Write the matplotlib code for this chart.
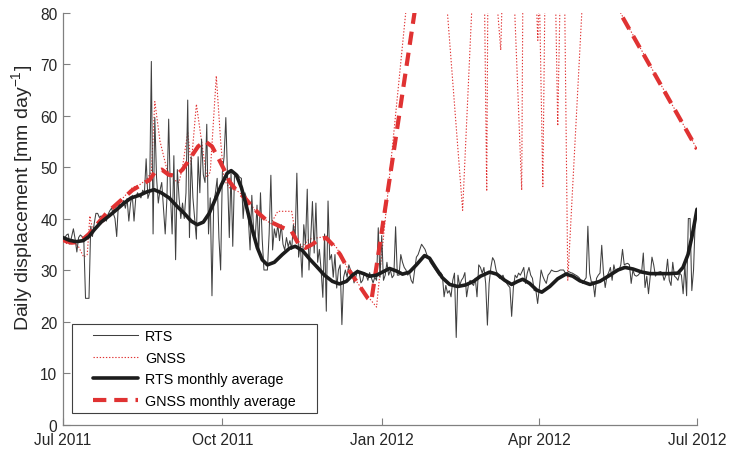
import matplotlib
matplotlib.use("Agg")
import matplotlib.pyplot as plt
from matplotlib.patches import Rectangle
import numpy as np

plt.rcParams['font.family'] = ['Liberation Sans', 'DejaVu Sans']
plt.rcParams['mathtext.fontset'] = 'custom'
plt.rcParams['mathtext.rm'] = 'Liberation Sans'
plt.rcParams['mathtext.it'] = 'Liberation Sans:italic'
plt.rcParams['mathtext.default'] = 'regular'

# Day offsets are counted from 1 July 2011
tick_days = [0, 92, 184, 275, 366]
tick_labels = ["Jul 2011", "Oct 2011", "Jan 2012", "Apr 2012", "Jul 2012"]

# RTS daily displacement (mm/day), one value per day
rts_daily = [
    36.5, 36.2, 36.8, 37.0, 35.0, 36.5, 38.0, 36.0, 33.5, 36.3,
    36.8, 36.5, 36.0, 24.5, 24.5, 24.5, 38.5, 36.5, 39.0, 41.0,
    41.0, 40.2, 40.5, 40.0, 40.0, 39.5, 40.8, 41.5, 42.0, 41.0,
    40.0, 36.5, 43.0, 42.5, 42.8, 43.5, 42.0, 43.9, 39.5, 43.0,
    44.5, 39.5, 44.0, 45.0, 44.5, 44.0, 45.5, 45.0, 51.6, 43.9,
    45.0, 70.5, 37.0, 59.6, 48.0, 43.0, 45.5, 47.0, 42.0, 37.0,
    44.0, 59.3, 45.0, 37.0, 52.2, 32.0, 49.5, 44.0, 40.0, 43.0,
    40.0, 45.0, 63.0, 36.3, 52.0, 44.0, 40.0, 36.0, 52.0, 45.0,
    55.4, 48.5, 47.0, 58.3, 37.0, 44.0, 25.0, 43.0, 45.0, 47.8,
    36.3, 30.0, 49.0, 52.0, 59.6, 47.8, 36.3, 49.0, 34.6, 48.5,
    48.5, 48.5, 48.0, 47.8, 40.0, 45.0, 43.9, 40.0, 33.9, 44.5,
    38.0, 36.3, 42.6, 33.9, 45.0, 36.0, 30.0, 30.0, 30.0, 37.0,
    48.4, 33.9, 38.0, 36.3, 38.8, 35.7, 38.8, 35.0, 33.9, 36.3,
    34.5, 35.7, 34.0, 38.8, 36.0, 48.8, 32.5, 35.0, 28.6, 38.8,
    35.0, 45.7, 30.0, 36.0, 43.3, 33.3, 43.0, 31.5, 34.0, 30.0,
    24.7, 37.0, 22.0, 43.4, 32.0, 33.0, 28.6, 33.0, 26.5, 30.0,
    31.0, 19.4, 28.6, 30.0, 28.6, 31.0, 30.0, 29.5, 27.5, 28.6,
    30.0, 29.5, 27.5, 28.0, 29.5, 29.0, 28.0, 29.5, 28.5, 27.5,
    28.6, 28.0, 38.2, 28.6, 36.7, 28.0, 29.0, 31.5, 29.0, 30.0,
    28.5, 29.0, 38.4, 29.0, 29.0, 33.0, 31.5, 30.5, 30.0, 29.0,
    29.5, 28.0, 27.4, 30.0, 32.5, 33.0, 34.0, 35.0, 34.5, 34.0,
    33.0, 32.5, 31.5, 31.0, 30.5, 30.0, 29.5, 29.0, 29.5, 29.0,
    24.8, 27.0, 25.5, 26.0, 24.8, 28.0, 29.4, 16.9, 29.0, 27.0,
    28.0, 28.5, 29.5, 24.8, 27.0, 28.0, 27.4, 27.0, 28.4, 24.8,
    31.0, 30.5, 29.4, 30.5, 27.4, 19.3, 27.4, 30.5, 32.4, 31.8,
    30.0, 29.0, 28.4, 28.5, 29.0, 28.0, 27.5, 27.0, 26.6, 21.0,
    26.6, 29.0, 28.5, 29.4, 29.0, 29.7, 30.5, 27.4, 29.4, 30.5,
    29.0, 28.4, 26.0, 26.0, 23.5, 26.6, 30.0, 28.8, 28.0, 27.4,
    29.0, 29.4, 30.0, 29.8, 29.7, 29.7, 29.8, 30.0, 30.0, 30.0,
    29.4, 29.5, 29.7, 29.5, 29.4, 29.2, 29.0, 28.8, 28.5, 28.0,
    27.4, 28.0, 28.5, 38.5, 29.4, 27.7, 27.7, 24.8, 28.4, 29.0,
    29.4, 34.8, 29.4, 26.6, 28.8, 29.5, 30.5, 28.0, 31.0, 29.5,
    29.7, 30.0, 31.0, 34.0, 31.0, 31.2, 31.3, 31.0, 27.4, 30.0,
    29.0, 28.8, 29.0, 29.4, 29.5, 33.3, 26.6, 28.8, 25.4, 28.8,
    32.5, 31.0, 28.8, 29.4, 29.6, 29.7, 29.4, 28.0, 29.0, 32.1,
    28.0, 27.0, 31.5, 28.8, 28.5, 28.0, 29.4, 29.0, 25.4, 31.0,
    25.0, 40.0, 40.0, 26.0, 30.0, 40.0, 40.0,
]
rts_days = list(range(len(rts_daily)))

# GNSS daily displacement (irregular days, gaps bridged by straight segments)
gnss_days = [
    0, 3, 6, 9, 12, 14, 15.5, 17, 20, 24, 28, 32, 36, 40, 44, 48, 51, 53,
    56, 60, 64, 67, 69, 72, 74, 77, 80, 83, 85, 88.5, 91, 93, 96, 100, 104,
    108, 112, 116, 120, 124, 128, 132, 134.5, 138, 142, 148, 152, 158, 165,
    173, 181, 211.4, 230.7, 241.9, 244.6, 245.6, 252.7, 256.4, 264.8, 266.5,
    274.1, 275.0, 277.0, 280.6, 285.6, 288.6, 291.4, 301.4, 366,
]
gnss_vals = [
    35.5, 35.0, 35.5, 34.5, 32.5, 33.0, 40.5, 38.0, 38.5, 39.5, 41.0, 43.0,
    44.5, 46.0, 46.5, 47.5, 49.0, 62.7, 55.0, 49.5, 47.5, 47.0, 50.0, 56.8,
    50.5, 62.2, 55.0, 48.0, 49.0, 67.7, 55.0, 47.5, 46.0, 45.5, 44.5, 43.0,
    41.0, 40.0, 39.0, 41.4, 41.4, 41.4, 36.3, 34.5, 36.0, 36.3, 36.6, 34.3,
    29.9, 26.1, 22.8, 126.0, 41.6, 124.3, 45.3, 103.0, 72.7, 117.8, 45.5,
    143.0, 74.6, 84.3, 46.2, 156.7, 58.0, 112.9, 28.0, 92.2, 53.5,
]

# RTS monthly average (smoothed)
rts_avg_days = [
    0, 3.5, 7.5, 11.6, 15, 18, 22, 26.6, 31.2, 35.3, 39.3, 44, 48.6, 52.6,
    56.7, 61.3, 66, 70, 74, 77.5, 81, 84.4, 88, 91.4, 94.8, 97.1, 100, 103,
    105.8, 108.7, 112.2, 115, 118, 122, 126.6, 130.7, 134.1, 138.2, 142.2,
    146.9, 150.9, 155.5, 159.6, 163.6, 167.1, 170, 173.5, 177, 181, 185.6,
    188.5, 192.5, 196, 200, 204, 208.7, 211.6, 215, 219, 223.2, 227.8,
    232.4, 237, 241, 246.3, 250.4, 255, 259, 262.5, 265.4, 269.4, 273.5,
    276.4, 281, 285.6, 290.3, 294.3, 298.4, 304.2, 309.9, 315.7, 320.3,
    324.4, 329, 334.2, 338.8, 350.4, 355, 357.9, 360.8, 363.1, 366,
]
rts_avg_vals = [
    36.3, 35.8, 35.5, 35.7, 36.5, 37.8, 39.3, 40.5, 41.8, 43.0, 44.0, 44.5,
    45.2, 45.6, 45.0, 44.0, 42.3, 41.0, 39.5, 38.8, 39.3, 41.0, 43.8, 46.5,
    48.8, 49.3, 48.5, 46.0, 42.5, 38.5, 34.3, 32.0, 31.0, 31.5, 33.0, 34.2,
    34.6, 33.8, 32.2, 30.5, 29.0, 27.8, 27.3, 27.8, 29.0, 29.7, 29.3, 28.8,
    29.0, 29.8, 30.3, 29.8, 29.2, 29.6, 31.0, 32.8, 32.3, 30.5, 28.5, 27.2,
    26.8, 27.1, 27.8, 28.8, 29.6, 29.2, 28.0, 27.2, 27.8, 28.2, 27.4, 26.1,
    25.7, 26.8, 28.3, 29.2, 28.8, 27.9, 27.2, 27.8, 29.0, 30.0, 30.5, 30.2,
    29.6, 29.3, 29.3, 29.4, 30.5, 33.0, 36.5, 41.8,
]

# GNSS monthly average
gnss_avg_days = [
    0, 5, 10, 15, 20, 25, 30, 35, 40, 45, 50, 53, 57, 61, 65, 69, 73, 78,
    82, 86, 90, 93, 96, 100, 105, 110, 113, 118, 122, 127, 132, 136, 140,
    144, 148, 152, 156, 160, 164, 168, 172, 176, 178, 227.8, 366,
]
gnss_avg_vals = [
    35.8, 35.3, 35.5, 37.0, 39.0, 41.0, 42.5, 44.0, 45.5, 46.5, 47.5, 49.0,
    49.5, 48.5, 48.3, 49.5, 51.5, 54.0, 55.0, 54.0, 51.5, 49.5, 47.2, 45.5,
    44.0, 42.0, 41.0, 39.5, 39.0, 38.2, 37.5, 35.0, 34.3, 35.0, 36.0, 36.2,
    34.8, 33.0, 30.5, 28.5, 26.5, 24.5, 24.0, 135.8, 53.5,
]

red = '#e03232'
fig = plt.figure(figsize=(7.30, 4.52), dpi=100)
ax = fig.add_axes([0.0863, 0.0586, 0.8685, 0.9115])

ax.plot(rts_days, rts_daily, color='#404040', lw=0.75, label='RTS', zorder=3)
ax.plot(gnss_days, gnss_vals, color=red, lw=0.8, ls=(0, (1.2, 1.6)),
        label='GNSS', zorder=2)
ax.plot(rts_avg_days, rts_avg_vals, color='#1c1c1c', lw=2.6,
        label='RTS monthly average', zorder=4, solid_capstyle='round')
ax.plot(gnss_avg_days, gnss_avg_vals, color=red, lw=3.0, ls=(0, (3.2, 1.9)),
        label='GNSS monthly average', zorder=3)

ax.set_xlim(0, 366)
ax.set_ylim(0, 80)
ax.set_xticks(tick_days)
ax.set_xticklabels(tick_labels)
ax.set_yticks(np.arange(0, 81, 10))
ax.tick_params(direction='in', length=5, width=0.8, color='#808080',
               labelsize=11.2, labelcolor='#262626')
ax.tick_params(axis='x', pad=5.5)
ax.tick_params(axis='y', pad=4)
for side in ('top', 'right'):
    ax.spines[side].set_visible(False)
for side in ('left', 'bottom'):
    ax.spines[side].set_color('#808080')
    ax.spines[side].set_linewidth(0.9)

ax.set_ylabel('Daily displacement [mm day$^{-1}$]', fontsize=14,
              color='#262626')
ax.yaxis.set_label_coords(-0.044, 0.553)

# Legend entries without their own frame; the box is drawn separately
leg = ax.legend(loc='center left', bbox_to_anchor=(0.0473, 0.1359),
                fontsize=10.3, frameon=False, borderaxespad=0, borderpad=0,
                handlelength=3.15, handletextpad=0.5, labelspacing=0.52)
leg.set_zorder(6)
ax.add_patch(Rectangle((0.0142, 0.0279), 0.3864, 0.216,
                       transform=ax.transAxes, facecolor='white',
                       edgecolor='#404040', lw=0.8, zorder=5))

fig.savefig('out.png', dpi=100)
